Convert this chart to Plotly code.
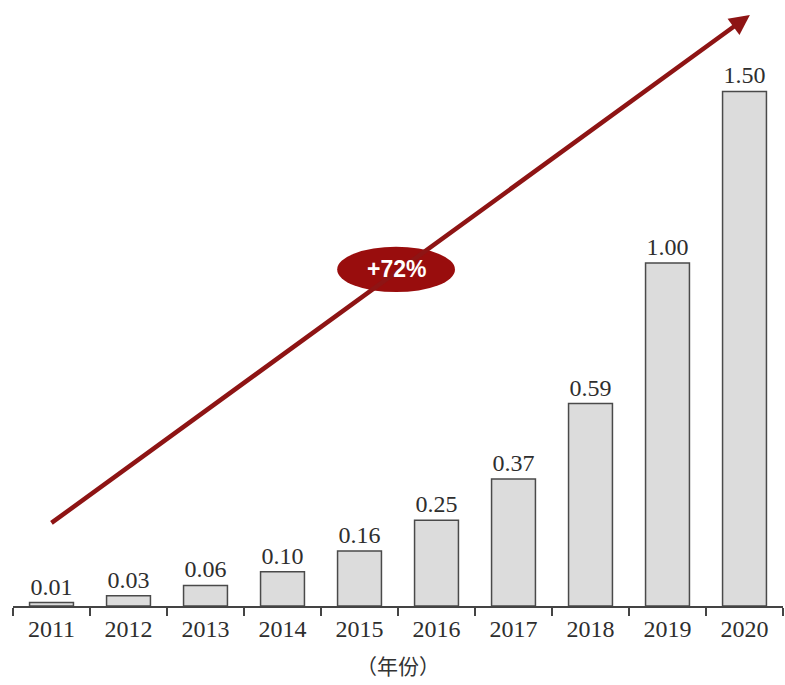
import plotly.graph_objects as go

# Annual values, 2011-2020
years = ["2011", "2012", "2013", "2014", "2015", "2016", "2017", "2018", "2019", "2020"]
values = [0.01, 0.03, 0.06, 0.10, 0.16, 0.25, 0.37, 0.59, 1.00, 1.50]
value_labels = ["0.01", "0.03", "0.06", "0.10", "0.16", "0.25", "0.37", "0.59", "1.00", "1.50"]
growth_label = "+72%"
x_title = "（年份）"

serif = "Liberation Serif, Times New Roman, serif"
dark_red = "#8e1414"

fig = go.Figure()
fig.add_trace(go.Bar(
    x=years,
    y=values,
    text=value_labels,
    textposition="outside",
    cliponaxis=False,
    textfont=dict(family=serif, size=24, color="#2e2e2e"),
    marker=dict(color="#dcdcdc", line=dict(color="#4a4a4a", width=1.5)),
    hoverinfo="skip",
))

# Growth trend arrow
fig.add_annotation(
    x=9.07, y=1.723, ax=-0.02, ay=0.239,
    xref="x", yref="y", axref="x", ayref="y",
    showarrow=True, arrowhead=2, arrowsize=0.9, arrowwidth=4.5,
    arrowcolor=dark_red, text="",
)

# Growth badge
fig.add_shape(
    type="circle", xref="x", yref="y",
    x0=3.71, x1=5.24, y0=0.915, y1=1.047,
    fillcolor="#990d0d", line=dict(width=0),
)
fig.add_annotation(
    x=4.475, y=0.981, xref="x", yref="y",
    text="<b>" + growth_label + "</b>", showarrow=False,
    font=dict(family="Liberation Sans, Arial, sans-serif", size=23, color="white"),
)

# Axis title below the year labels
fig.add_annotation(
    x=0.5, y=-0.098, xref="paper", yref="paper",
    xanchor="center", yanchor="middle",
    text=x_title, showarrow=False,
    font=dict(family="Noto Sans CJK SC, sans-serif", size=21, color="#333333"),
)

fig.update_layout(
    width=785, height=685,
    margin=dict(l=13, r=2, t=5, b=79),
    paper_bgcolor="white", plot_bgcolor="white",
    showlegend=False,
    bargap=0.43,
    xaxis=dict(
        type="category",
        range=[-0.5, 9.5],
        tickson="boundaries",
        showline=True, linecolor="#444444", linewidth=1.5,
        ticks="outside", ticklen=8, tickwidth=1.5, tickcolor="#444444",
        showgrid=False, zeroline=False,
        tickfont=dict(family=serif, size=24, color="#2e2e2e"),
    ),
    yaxis=dict(
        range=[0, 1.752],
        visible=False, showgrid=False, zeroline=False,
    ),
)

fig.write_html("out.html")
